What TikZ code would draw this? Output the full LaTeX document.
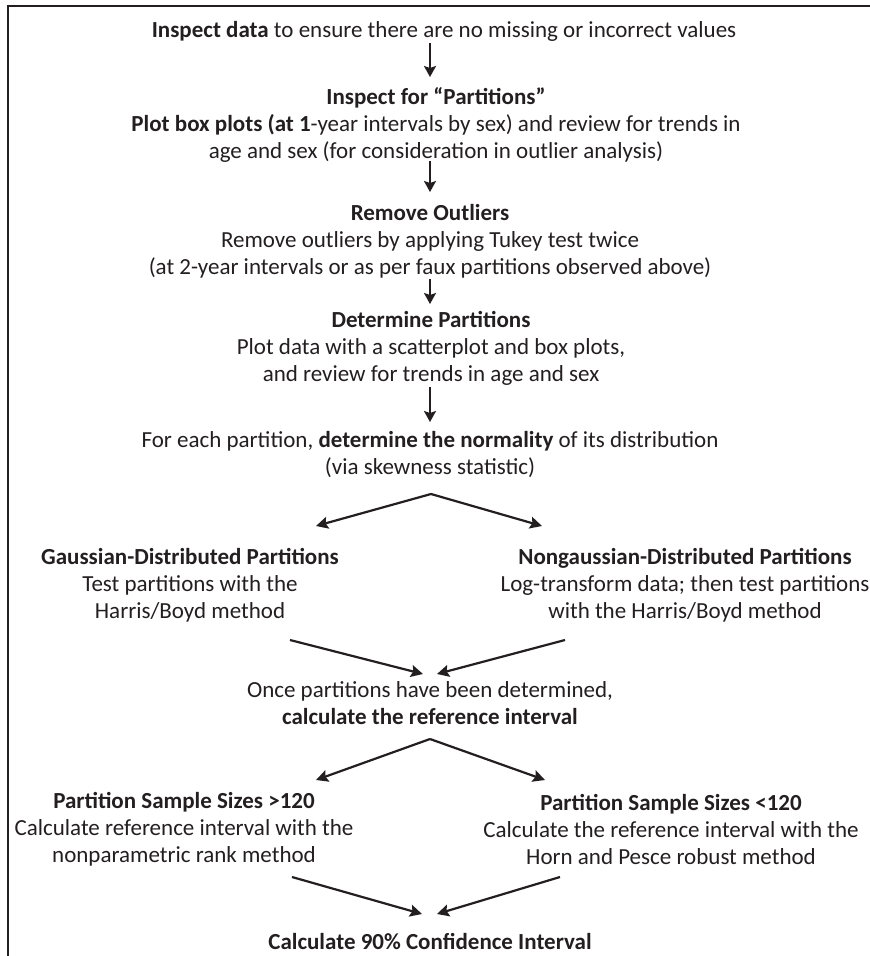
\documentclass[tikz,border=0pt]{standalone}
\usepackage{fontspec}
\setmainfont{Carlito}
\usetikzlibrary{arrows.meta}
\definecolor{ink}{HTML}{231F20}
\begin{document}
\begin{tikzpicture}[x=1pt,y=-1pt,
  txt/.style={align=center,inner sep=1pt,text=ink,font=\fontsize{23}{27}\selectfont},
  arr/.style={draw=ink,line width=2pt,-{Stealth[length=11pt,width=12pt,inset=2pt]}},
  darr/.style={draw=ink,line width=2.2pt,-{Stealth[length=12pt,width=12pt,inset=2pt]}}]
\useasboundingbox (0,0) rectangle (870,956);
% frame
\draw[ink,line width=2pt] (8,956) -- (8,6) -- (870,6);

% steps
\node[txt] (inspect) at (444,31) {\textbf{Inspect data} to ensure there are no missing or incorrect values};
\node[txt] (parts) at (436,124.5) {\textbf{Inspect for “Partitions”}\\
  \textbf{Plot box plots (at 1}-year intervals by sex) and review for trends in\\
  age and sex (for consideration in outlier analysis)};
\node[txt] (outl) at (430,241) {\textbf{Remove Outliers}\\
  Remove outliers by applying Tukey test twice\\
  (at 2-year intervals or as per faux partitions observed above)};
\node[txt] (determ) at (431,348) {\textbf{Determine Partitions}\\
  Plot data with a scatterplot and box plots,\\
  and review for trends in age and sex};
\node[txt] (normal) at (430,455) {For each partition, \textbf{determine the normality} of its distribution\\
  (via skewness statistic)};
\node[txt] (gauss) at (190,585) {\textbf{Gaussian-Distributed Partitions}\\
  Test partitions with the\\ Harris/Boyd method};
\node[txt] (nongauss) at (685,585) {\textbf{Nongaussian-Distributed Partitions}\\
  Log-transform data; then test partitions\\ with the Harris/Boyd method};
\node[txt] (refint) at (430,703.5) {Once partitions have been determined,\\
  \textbf{calculate the reference interval}};
\node[txt] (large) at (184,829.5) {\textbf{Partition Sample Sizes >120}\\
  Calculate reference interval with the\\ nonparametric rank method};
\node[txt] (small) at (671,829.5) {\textbf{Partition Sample Sizes <120}\\
  Calculate the reference interval with the\\ Horn and Pesce robust method};
\node[txt] (conf) at (430,941) {\textbf{Calculate 90\% Confidence Interval}};

% branch and merge points
\coordinate (split1) at (431,494);
\coordinate (merge1) at (430,674);
\coordinate (split2) at (430,739);
\coordinate (merge2) at (430,914);

% straight connectors
\draw[arr] (inspect.south -| 430,0) ++(0,1) -- (430,77);
\draw[arr] (430,161) -- (430,192);
\draw[arr] (430,279) -- (430,304);
\draw[arr] (430,387) -- (430,422);

% first fork
\draw[darr] (split1) -- (316,526);
\draw[darr] (split1) -- (542,526);
\draw[darr] (290,640) -- ([xshift=-7pt]merge1);
\draw[darr] (565,640) -- ([xshift=7pt]merge1);

% second fork
\draw[darr] (split2) -- (316,780);
\draw[darr] (split2) -- (545,780);
\draw[darr] (292,877) -- ([xshift=-8pt]merge2);
\draw[darr] (560,877) -- ([xshift=7pt]merge2);
\end{tikzpicture}
\end{document}
